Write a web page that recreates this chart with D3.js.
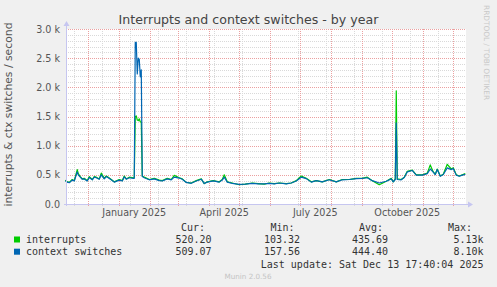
<!DOCTYPE html>
<html>
<head>
<meta charset="utf-8">
<script src="https://cdn.jsdelivr.net/npm/d3@7"></script>
<style>
  html, body { margin: 0; padding: 0; background: #f0f0f0; }
  svg { display: block; font-family: "DejaVu Sans", sans-serif; }
</style>
</head>
<body>
<svg id="chart" width="497" height="287"></svg>
<script>
'use strict';

// daily samples
const dates = [
  '2024-11-08','2024-11-10','2024-11-12','2024-11-15','2024-11-17','2024-11-20','2024-11-21','2024-11-23','2024-11-25','2024-11-27',
  '2024-11-30','2024-12-02','2024-12-05','2024-12-07','2024-12-09','2024-12-12','2024-12-14','2024-12-17','2024-12-19','2024-12-21','2024-12-24','2024-12-27',
  '2025-01-01','2025-01-04','2025-01-06','2025-01-08','2025-01-11','2025-01-15','2025-01-16','2025-01-17','2025-01-18',
  '2025-01-19','2025-01-20','2025-01-21','2025-01-22','2025-01-23','2025-01-24','2025-01-26',
  '2025-01-31','2025-02-05','2025-02-10','2025-02-13','2025-02-18','2025-02-22','2025-02-25',
  '2025-03-02','2025-03-05','2025-03-09','2025-03-14','2025-03-19','2025-03-24','2025-03-27','2025-03-30',
  '2025-04-05','2025-04-11','2025-04-14','2025-04-16','2025-04-19','2025-04-24',
  '2025-05-01','2025-05-07','2025-05-14','2025-05-20','2025-05-26','2025-05-31',
  '2025-06-05','2025-06-10','2025-06-17','2025-06-22','2025-06-27',
  '2025-07-02','2025-07-07','2025-07-12','2025-07-17','2025-07-23','2025-07-30',
  '2025-08-06','2025-08-12','2025-08-19','2025-08-26',
  '2025-09-01','2025-09-06','2025-09-11','2025-09-18','2025-09-25','2025-09-30',
  '2025-10-02','2025-10-04','2025-10-05','2025-10-06','2025-10-10','2025-10-13','2025-10-16',
  '2025-10-21','2025-10-25','2025-10-31',
  '2025-11-05','2025-11-08','2025-11-11','2025-11-13','2025-11-15','2025-11-18','2025-11-21',
  '2025-11-25','2025-11-29',
  '2025-12-01','2025-12-04','2025-12-07','2025-12-10','2025-12-13'
];
const interrupts = [
  410, 380, 370, 420, 400, 590, 520, 470, 430, 440,
  400, 470, 420, 470, 460, 430, 530, 440, 480, 460, 420, 380,
  420, 400, 480, 430, 460, 450, 450, 1500, 1510,
  1440, 1430, 1460, 1410, 1400, 480, 460,
  420, 440, 410, 400, 440, 420, 490,
  450, 430, 370, 360, 400, 430, 350, 380,
  400, 380, 420, 500, 380, 360,
  330, 340, 360, 350, 340, 360,
  350, 360, 350, 360, 400,
  480, 440, 380, 400, 380, 420,
  380, 420, 420, 440,
  440, 460, 400, 330, 390, 440,
  380, 430, 1940, 430, 420, 460, 560,
  580, 500, 500,
  530, 670, 550, 510, 600, 480, 510,
  680, 600,
  620, 500, 480, 500, 520
];
const ctxSwitches = [
  400, 375, 365, 410, 395, 550, 500, 460, 425, 430,
  395, 455, 415, 460, 450, 425, 500, 430, 470, 450, 415, 375,
  410, 395, 465, 425, 450, 440, 440, 2770, 2770,
  2230, 2500, 2480, 2180, 2300, 470, 450,
  415, 430, 400, 395, 430, 415, 460,
  445, 425, 370, 355, 395, 425, 350, 375,
  395, 375, 410, 460, 375, 355,
  335, 340, 355, 345, 345, 355,
  345, 360, 345, 360, 395,
  460, 435, 375, 400, 380, 415,
  380, 415, 420, 435,
  440, 450, 400, 360, 390, 430,
  380, 420, 1390, 420, 415, 455, 550,
  575, 495, 495,
  520, 600, 545, 505, 590, 475, 505,
  620, 590,
  610, 495, 475, 495, 509
];

const yTicks = [0, 500, 1000, 1500, 2000, 2500, 3000];
const xLabelMonths = ['2025-01-01', '2025-04-01', '2025-07-01', '2025-10-01'];

const seriesNames = ['interrupts', 'context switches'];
const seriesColors = ['#00cc00', '#0066b3'];
const curValues = ['520.20', '509.07'];
const minValues = ['103.32', '157.56'];
const avgValues = ['435.69', '444.40'];
const maxValues = ['5.13k', '8.10k'];

const parse = d3.timeParse('%Y-%m-%d');
const svg = d3.select('#chart');

const pLeft = 66, pRight = 466, pTop = 29, pBottom = 204;
const x = d3.scaleTime()
  .domain([new Date(2024, 10, 8, 17, 40), new Date(2025, 11, 13, 17, 40)])
  .range([pLeft, pRight]);
const y = d3.scaleLinear().domain([0, 3000]).range([pBottom, pTop]);

// plot canvas
svg.append('rect')
  .attr('x', pLeft).attr('y', pTop)
  .attr('width', pRight - pLeft).attr('height', pBottom - pTop)
  .attr('fill', '#fff');

const grid = svg.append('g').attr('stroke-dasharray', '1,1').attr('stroke-width', 1);

// minor horizontal grid every 100
grid.selectAll('line.hmin')
  .data(d3.range(100, 3001, 100).filter(v => v % 500 !== 0))
  .join('line')
  .attr('x1', pLeft).attr('x2', pRight)
  .attr('y1', d => Math.round(y(d)) + 0.5).attr('y2', d => Math.round(y(d)) + 0.5)
  .attr('stroke', '#d9d9d9');

// minor vertical grid every 4 weeks
const weekLines = d3.timeWeek.range(new Date(2024, 10, 17), new Date(2025, 11, 14), 4);
grid.selectAll('line.vmin')
  .data(weekLines)
  .join('line')
  .attr('x1', d => Math.round(x(d)) + 0.5).attr('x2', d => Math.round(x(d)) + 0.5)
  .attr('y1', pTop).attr('y2', pBottom + 2)
  .attr('stroke', '#d9d9d9');

// major grid
grid.selectAll('line.hmaj')
  .data(yTicks.filter(v => v > 0))
  .join('line')
  .attr('x1', pLeft).attr('x2', pRight)
  .attr('y1', d => Math.round(y(d)) + 0.5).attr('y2', d => Math.round(y(d)) + 0.5)
  .attr('stroke', '#eba0a0');

const monthLines = d3.timeMonth.range(new Date(2024, 11, 1), new Date(2025, 11, 14));
grid.selectAll('line.vmaj')
  .data(monthLines)
  .join('line')
  .attr('x1', d => Math.round(x(d)) + 0.5).attr('x2', d => Math.round(x(d)) + 0.5)
  .attr('y1', pTop).attr('y2', pBottom + 3)
  .attr('stroke', '#eba0a0');

// series
const pts = dates.map(parse);
const line = d3.line().x((d, i) => x(pts[i])).y(d => y(d));
[interrupts, ctxSwitches].forEach((vals, k) => {
  svg.append('path')
    .datum(vals)
    .attr('d', line)
    .attr('fill', 'none')
    .attr('stroke', seriesColors[k])
    .attr('stroke-width', 1.2)
    .attr('stroke-linejoin', 'round');
});

// axes lines with arrows
const axisColor = '#c6c6f0';
svg.append('line')
  .attr('x1', pLeft + 0.5).attr('x2', pLeft + 0.5)
  .attr('y1', pBottom + 2).attr('y2', 24)
  .attr('stroke', axisColor);
svg.append('path')
  .attr('d', `M${pLeft - 2.5},26 L${pLeft + 0.5},21 L${pLeft + 3.5},26 Z`)
  .attr('fill', axisColor);
svg.append('line')
  .attr('x1', pLeft - 2).attr('x2', pRight + 3)
  .attr('y1', pBottom + 0.5).attr('y2', pBottom + 0.5)
  .attr('stroke', axisColor);
svg.append('path')
  .attr('d', `M${pRight + 2},${pBottom - 2.5} L${pRight + 7},${pBottom + 0.5} L${pRight + 2},${pBottom + 3.5} Z`)
  .attr('fill', axisColor);

// y axis labels
const yAxis = d3.axisLeft(y)
  .tickValues(yTicks)
  .tickSize(0)
  .tickPadding(0)
  .tickFormat(v => v === 0 ? '0.0' : (v / 1000).toFixed(1) + ' k');
const yg = svg.append('g').attr('transform', `translate(${pLeft - 6},0)`).call(yAxis);
yg.select('.domain').remove();
yg.selectAll('text')
  .attr('fill', '#555')
  .style('font-family', '"DejaVu Sans", sans-serif')
  .style('font-size', '9.6px');

// x axis labels, centred on the month
svg.append('g').selectAll('text')
  .data(xLabelMonths.map(parse))
  .join('text')
  .attr('x', d => x(d3.timeDay.offset(d, 15)))
  .attr('y', 216)
  .attr('text-anchor', 'middle')
  .attr('fill', '#555')
  .style('font-size', '9.6px')
  .text(d3.timeFormat('%B %Y'));

// title
svg.append('text')
  .attr('x', 248.5).attr('y', 24)
  .attr('text-anchor', 'middle')
  .attr('fill', '#444')
  .style('font-size', '12.6px')
  .text('Interrupts and context switches - by year');

// vertical axis title
svg.append('text')
  .attr('transform', `translate(11.5,${(pTop + pBottom) / 2 - 2}) rotate(-90)`)
  .attr('text-anchor', 'middle')
  .attr('fill', '#555')
  .style('font-size', '10.8px')
  .text('interrupts & ctx switches / second');

// rrdtool watermark
svg.append('text')
  .attr('transform', 'translate(484,5) rotate(90)')
  .attr('fill', '#c8c8c8')
  .style('font-size', '7.4px')
  .text('RRDTOOL / TOBI OETIKER');

// legend
const mono = '"DejaVu Sans Mono", monospace';
const legend = svg.append('g')
  .style('font-family', mono)
  .style('font-size', '10px')
  .attr('fill', '#333');

[['Cur:', 205], ['Min:', 294.5], ['Avg:', 383], ['Max:', 472]].forEach(([t, xp]) => {
  legend.append('text').attr('x', xp).attr('y', 231).attr('text-anchor', 'end').text(t);
});

seriesNames.forEach((name, i) => {
  const yy = 243 + i * 12.2;
  legend.append('rect')
    .attr('x', 14).attr('y', yy - 6.5).attr('width', 6).attr('height', 6)
    .attr('fill', seriesColors[i]);
  legend.append('text').attr('x', 26).attr('y', yy).text(name);
  [[curValues, 211.5], [minValues, 300], [avgValues, 388], [maxValues, 483.5]].forEach(([arr, xp]) => {
    legend.append('text').attr('x', xp).attr('y', yy).attr('text-anchor', 'end').text(arr[i]);
  });
});

legend.append('text')
  .attr('x', 483.5).attr('y', 267.5)
  .attr('text-anchor', 'end')
  .text('Last update: Sat Dec 13 17:40:04 2025');

svg.append('text')
  .attr('x', 248).attr('y', 279)
  .attr('text-anchor', 'middle')
  .attr('fill', '#c4c4c4')
  .style('font-size', '7.2px')
  .text('Munin 2.0.56');
</script>
</body>
</html>
